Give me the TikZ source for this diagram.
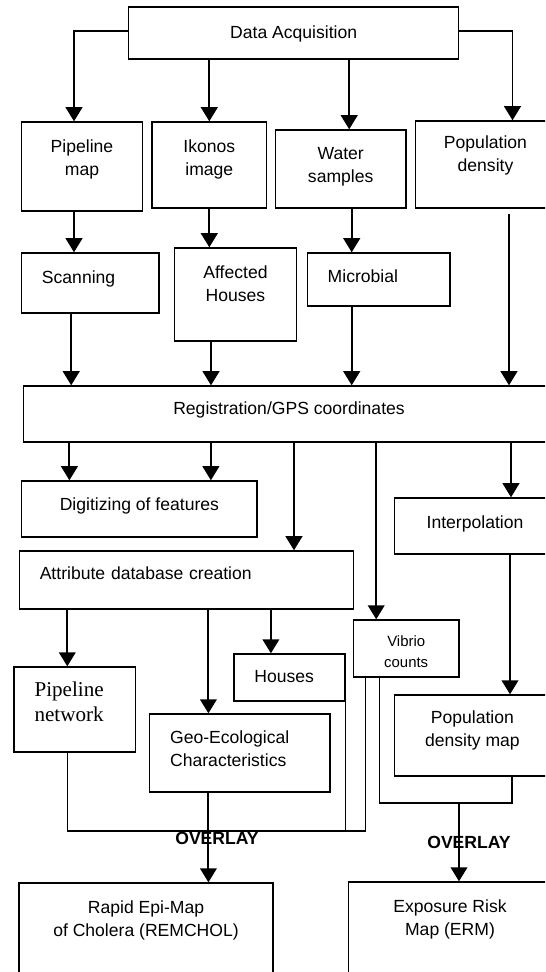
\documentclass[tikz,border=0pt]{standalone}
\usepackage{fontspec}
\setmainfont{Liberation Sans}
\newfontfamily\timesfont{Liberation Serif}
\usetikzlibrary{arrows.meta}

\begin{document}
\begin{tikzpicture}[x=0.02cm,y=-0.02cm,line width=1.05pt,>={Triangle[width=9.5pt,length=8pt]},
    box/.style={draw,line width=0.8pt,inner ysep=0pt,inner xsep=2pt,align=center,font=\fontsize{10}{13}\selectfont,text height=7pt,text depth=1pt},
    two/.style={text height=20pt},
    lbox/.style={box,align=left,inner xsep=0.41cm},
    ovl/.style={font=\bfseries\fontsize{10}{12}\selectfont,inner sep=0pt}]

    \useasboundingbox (0,0) rectangle (545,972);
    \clip (0,0) rectangle (545,972);

    \node[box,minimum width=6.6cm,minimum height=1.04cm] (acq) at (293.7,33) {Data Acquisition};

    \node[box,two,minimum width=2.42cm,minimum height=1.78cm,text depth=10.1pt] (pmap) at (82,166.5) {Pipeline\\map};
    \node[box,two,minimum width=2.29cm,minimum height=1.72cm,text depth=8.4pt] (ikonos) at (209.3,165) {Ikonos\\image};
    \node[box,two,minimum width=2.61cm,minimum height=1.56cm,text depth=4.4pt] (water) at (340.7,169) {Water\\samples};
    \node[box,two,minimum width=2.8cm,minimum height=1.74cm,text depth=11.8pt] (popd) at (485.5,164.5) {Population\\density};

    \node[lbox,text width=1.93cm,minimum height=1.2cm,text depth=6.7pt] (scan) at (90.2,283) {Scanning};
    \node[box,two,minimum width=2.44cm,minimum height=1.86cm,text depth=12.3pt] (aff) at (235.5,294.5) {Affected\\Houses};
    \node[lbox,text width=2.04cm,minimum height=1.06cm,text depth=3.8pt] (micro) at (378.7,279.5) {Microbial};

    \node[box,minimum width=10.63cm,minimum height=1.12cm,text depth=6.7pt] (reg) at (289,414) {Registration/GPS coordinates};

    \node[box,minimum width=4.71cm,minimum height=1.12cm,text depth=5.5pt] (dig) at (139.4,509) {Digitizing of features};
    \node[lbox,text width=5.87cm,minimum height=1.16cm,text depth=7.8pt] (attr) at (186.5,580) {Attribute database creation};
    \node[box,minimum width=3.22cm,minimum height=1.12cm,text depth=4.4pt] (interp) at (475,526) {Interpolation};

    \node[box,font=\fontsize{8.5}{12}\selectfont,text height=22.6pt,minimum width=2.11cm,minimum height=1.14cm] (vib) at (406.2,648.5) {Vibrio\\counts};
    \node[lbox,font=\timesfont\fontsize{12}{14.2}\selectfont,text width=1.61cm,text height=8pt,text depth=22.4pt,minimum height=1.7cm] (pnet) at (74.8,709.5) {Pipeline\\network};
    \node[lbox,text width=1.4cm,minimum height=0.94cm] (houses) at (289.4,677.5) {Houses};
    \node[lbox,text width=2.79cm,minimum height=1.56cm,text depth=17.4pt] (geo) at (239.9,753) {Geo-Ecological\\Characteristics};
    \node[box,two,minimum width=3.12cm,minimum height=1.62cm,text depth=7.2pt] (pdmap) at (472.4,735.5) {Population\\density map};

    \node[box,two,minimum width=5.08cm,minimum height=2.14cm,text depth=19.7pt] (remchol) at (146,936.5) {Rapid Epi-Map\\of Cholera (REMCHOL)};
    \node[box,two,minimum width=4.06cm,minimum height=2.16cm,text depth=20.8pt] (erm) at (450,936) {Exposure Risk\\Map (ERM)};

    \draw[->] ([yshift=0.04cm]acq.west) -| ([xshift=-0.16cm]pmap.north);
    \draw[->] ([yshift=0.04cm]acq.east) -| ([xshift=0.54cm]popd.north);
    \draw[->] (acq.south -| ikonos.north) -- (ikonos.north);
    \draw[->] ([xshift=0.17cm]water.north |- acq.south) -- ([xshift=0.17cm]water.north);

    \draw[->] ([xshift=-0.16cm]pmap.south) -- ([xshift=-0.16cm]pmap.south |- scan.north);
    \draw[->] (ikonos.south) -- (ikonos.south |- aff.north);
    \draw[->] ([xshift=0.22cm]water.south) -- ([xshift=0.22cm]water.south |- micro.north);

    \draw[->] ([xshift=-0.38cm]scan.south) -- ([xshift=-0.38cm]scan.south |- reg.north);
    \draw[->] ([xshift=-0.49cm]aff.south) -- ([xshift=-0.49cm]aff.south |- reg.north);
    \draw[->] ([xshift=-0.54cm]micro.south) -- ([xshift=-0.54cm]micro.south |- reg.north);
    \draw[->] ([xshift=0.47cm,yshift=-0.1cm]popd.south) -- ([xshift=0.47cm]popd.south |- reg.north);

    \draw[->] ([xshift=-1.4cm]dig.north |- reg.south) -- ([xshift=-1.4cm]dig.north);
    \draw[->] ([xshift=1.43cm]dig.north |- reg.south) -- ([xshift=1.43cm]dig.north);
    \draw[->] ([xshift=2.15cm]attr.north |- reg.south) -- ([xshift=2.15cm]attr.north);
    \draw[->] ([xshift=-0.6cm]vib.north |- reg.south) -- ([xshift=-0.6cm]vib.north);
    \draw[->] ([xshift=0.72cm]interp.north |- reg.south) -- ([xshift=0.72cm]interp.north);
    \draw[->] ([xshift=0.7cm]interp.south) -- ([xshift=0.7cm]interp.south |- pdmap.north);

    \draw[->] ([xshift=-0.15cm]pnet.north |- attr.south) -- ([xshift=-0.15cm]pnet.north);
    \draw[->] ([xshift=-0.63cm]geo.north |- attr.south) -- ([xshift=-0.63cm]geo.north);
    \draw[->] ([xshift=-0.37cm]houses.north |- attr.south) -- ([xshift=-0.37cm]houses.north);

    % overlay
    \coordinate (lowL) at (0,831);
    \coordinate (lowR) at (0,803);
    \node[ovl] (ovlL) at (217,838) {OVERLAY};
    \node[ovl] (ovlR) at (469,842) {OVERLAY};

    \draw[line width=0.8pt] ([xshift=-0.15cm]pnet.south) |- ([xshift=-0.82cm]vib.south |- lowL) -- ([xshift=-0.82cm]vib.south);
    \draw[line width=0.8pt] (houses.south east) -- (houses.south east |- lowL);
    \draw[line width=0.8pt] ([xshift=-0.54cm]vib.south) |- ([xshift=0.79cm]pdmap.south |- lowR) -- ([xshift=0.79cm]pdmap.south);
    \draw[->] ([xshift=0.18cm]erm.north |- lowR) -- ([xshift=0.18cm]erm.north);
    \draw[->] ([xshift=-0.63cm]geo.south) -- ([xshift=-0.63cm]geo.south |- remchol.north);

\end{tikzpicture}
\end{document}
